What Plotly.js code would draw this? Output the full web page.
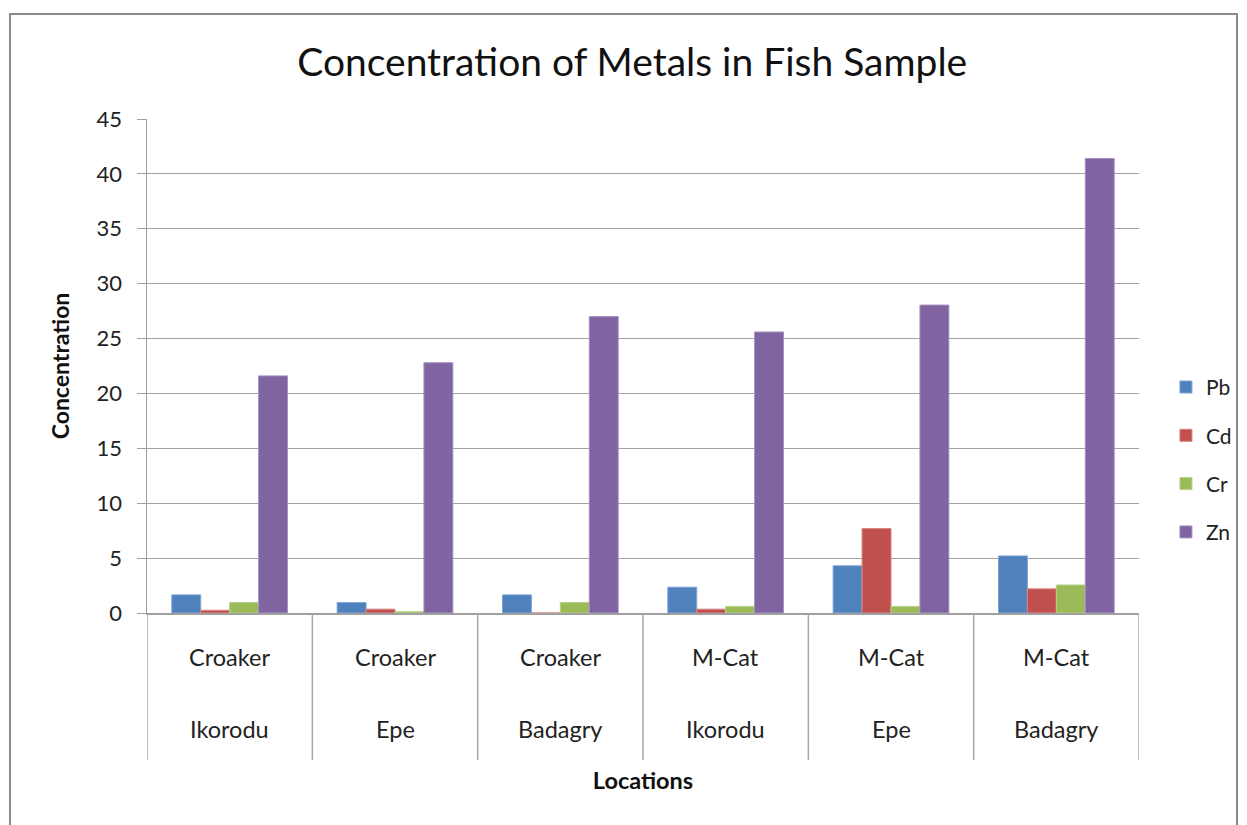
<!DOCTYPE html>
<html><head><meta charset="utf-8">
<script src="https://cdn.plot.ly/plotly-3.0.1.min.js"></script>
<style>
html,body{margin:0;padding:0;background:#fff;}
#frame{position:absolute;left:9px;top:13px;width:1229px;height:830px;border:2px solid #8a8a8a;box-sizing:border-box;}
#chart{position:absolute;left:0;top:0;width:1247px;height:825px;}
</style></head>
<body>
<div id="frame"></div>
<div id="chart"></div>
<script>
const species = ["Croaker","Croaker","Croaker","M-Cat","M-Cat","M-Cat"];
const locations = ["Ikorodu","Epe","Badagry","Ikorodu","Epe","Badagry"];
const seriesNames = ["Pb","Cd","Cr","Zn"];
const Pb = [1.65, 0.95, 1.65, 2.35, 4.3, 5.2];
const Cd = [0.25, 0.35, 0.0, 0.35, 7.7, 2.2];
const Cr = [0.95, 0.12, 0.95, 0.6, 0.6, 2.55];
const Zn = [21.6, 22.8, 27.0, 25.6, 28.05, 41.4];
const colors = ["#4f81bd","#c0504d","#9bbb59","#8064a2"];
const lineColors = ["#7fa4d3","#d88482","#b8d08a","#a591c0"];
const FONT = "Lato, Open Sans, sans-serif";

const cats = species.map((s,i)=>s+" "+locations[i]+" #"+i);
const values = [Pb,Cd,Cr,Zn];
const traces = values.map((v,k)=>({
  type:"bar", name:seriesNames[k], x:cats, y:v,
  marker:{color:colors[k], line:{color:lineColors[k], width:1}},
  legendgroup:"g"+k
}));

const annotations = [];
const shapes = [];
cats.forEach((c,i)=>{
  annotations.push({x:c, xref:"x", y:-0.089, yref:"paper", text:species[i], showarrow:false,
    font:{family:FONT, size:23.5, color:"#222"}, yanchor:"middle"});
  annotations.push({x:c, xref:"x", y:-0.235, yref:"paper", text:locations[i], showarrow:false,
    font:{family:FONT, size:23.5, color:"#222"}, yanchor:"middle"});
});
for(let i=0;i<=cats.length;i++){
  shapes.push({type:"line", xref:"x", yref:"paper", x0:i-0.5, x1:i-0.5, y0:0, y1:-0.2976,
    line:{color:"#a6a6a6", width:1.5}});
}

const layout = {
  width:1247, height:825,
  margin:{l:147, r:108, t:119, b:212},
  paper_bgcolor:"rgba(0,0,0,0)", plot_bgcolor:"#fff",
  font:{family:FONT, color:"#222"},
  title:{text:"Concentration of Metals in Fish Sample", x:0.507, xanchor:"center", y:0.925, yanchor:"middle",
    font:{size:39, color:"#111"}},
  barmode:"group", bargap:0.3, bargroupgap:0,
  xaxis:{type:"category", showticklabels:false, showgrid:false, zeroline:false,
    showline:true, linecolor:"#a0a0a0", linewidth:1.5, range:[-0.5,5.5], fixedrange:true,
    title:{text:"<b>Locations</b>", font:{size:23.5, color:"#111"}, standoff:159}},
  yaxis:{range:[0,45], dtick:5, showgrid:true, gridcolor:"#a3a3a3", gridwidth:1.2,
    showline:true, linecolor:"#a0a0a0", linewidth:1.5, zeroline:false,
    ticks:"outside", ticklen:9, tickcolor:"#a0a0a0", ticklabelstandoff:10,
    tickfont:{size:22, color:"#222"},
    title:{text:"<b>Concentration</b>", font:{size:23, color:"#111"}, standoff:20}},
  legend:{x:0.935, xref:"container", xanchor:"left", y:0.31, yanchor:"middle", font:{size:21, color:"#222"},
    itemwidth:30, traceorder:"grouped", tracegroupgap:18, bgcolor:"rgba(0,0,0,0)"},
  annotations:annotations, shapes:shapes
};
Plotly.newPlot("chart", traces, layout, {displayModeBar:false, staticPlot:true});
</script>
</body></html>
